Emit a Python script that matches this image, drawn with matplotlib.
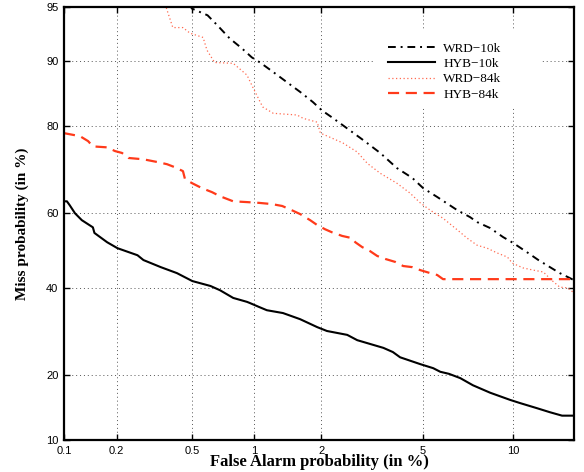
import numpy as np
import matplotlib
matplotlib.use("Agg")
import matplotlib.pyplot as plt
from matplotlib.patches import Rectangle
from statistics import NormalDist

# ---- data (percent) ----
wrd10k_fa = [0.49, 0.50, 0.60, 0.67, 0.77, 0.88, 0.98, 1.07, 1.23, 1.42, 1.62, 1.84, 2.01, 2.21,
             2.46, 2.97, 3.46, 4.01, 4.57, 5.01, 5.62, 6.6, 7.28, 7.68, 8.47, 9.3, 10.0, 11.1,
             11.9, 12.85, 13.7, 14.6, 15.0]
wrd10k_miss = [95.2, 94.9, 94.4, 93.6, 92.4, 91.4, 90.4, 89.8, 88.6, 87.2, 85.8, 84.2, 82.8, 81.6,
               80.1, 77.2, 74.5, 71.1, 68.8, 66.3, 64.1, 60.7, 58.9, 57.6, 56.0, 53.6, 52.0, 49.3,
               47.4, 45.5, 43.9, 42.6, 42.0]

hyb10k_fa = [0.100, 0.104, 0.108, 0.116, 0.127, 0.147, 0.150, 0.177, 0.202, 0.26, 0.28, 0.346,
             0.42, 0.503, 0.62, 0.69, 0.80, 0.93, 0.96, 1.06, 1.15, 1.36, 1.62, 1.92, 2.11, 2.56,
             2.81, 3.56, 3.87, 4.12, 4.89, 5.44, 5.76, 6.18, 6.75, 7.44, 8.47, 9.8, 10.5, 11.8,
             12.85, 13.9, 15.0]
hyb10k_miss = [63.0, 63.0, 62.0, 59.9, 58.1, 56.2, 54.7, 52.2, 50.6, 48.7, 47.4, 45.5,
               43.9, 41.8, 40.5, 39.4, 37.4, 36.4, 36.1, 35.1, 34.3, 33.6, 32.1, 30.2, 29.3, 28.4,
               27.2, 25.5, 24.6, 23.5, 22.1, 21.3, 20.6, 20.2, 19.4, 18.1, 16.8, 15.6, 15.1, 14.3,
               13.7, 13.2, 13.2]

wrd84k_fa = [0.365, 0.373, 0.40, 0.451, 0.49, 0.57, 0.596, 0.65, 0.80, 0.93, 0.99, 1.10, 1.23,
             1.57, 1.67, 1.92, 1.98, 2.17, 2.46, 2.81, 3.08, 3.46, 4.01, 4.48, 4.89, 5.31, 5.89,
             6.6, 7.12, 7.68, 8.28, 8.92, 9.6, 9.93, 10.7, 11.5, 12.3, 13.0, 13.7, 14.4, 15.0]
wrd84k_miss = [95.2, 94.8, 93.4, 93.4, 92.9, 92.5, 91.2, 89.8, 89.7, 88.2, 86.5, 83.4, 82.3,
               82.0, 81.4, 80.7, 78.6, 77.8, 76.6, 74.7, 72.2, 69.9, 67.5, 65.1, 62.6, 60.7, 58.6,
               55.5, 53.3, 51.4, 50.6, 49.3, 48.2, 46.6, 45.3, 44.7, 44.2, 42.0, 40.2, 40.0, 38.7]

hyb84k_fa = [0.100, 0.124, 0.138, 0.147, 0.177, 0.196, 0.214, 0.232, 0.28, 0.331, 0.373, 0.41,
             0.451, 0.462, 0.503, 0.563, 0.632, 0.69, 0.80, 0.93, 1.06, 1.21, 1.35, 1.49, 1.62,
             1.79, 1.92, 2.07, 2.21, 2.44, 2.68, 2.76, 2.94, 3.16, 3.37, 3.62, 3.95, 4.23, 4.57,
             4.89, 5.31, 5.62, 5.89, 15.0]
hyb84k_miss = [78.6, 78.0, 77.0, 75.9, 75.7, 74.9, 74.5, 73.4, 73.1, 72.5, 72.0, 71.3,
               70.4, 68.5, 67.5, 66.3, 65.3, 64.3, 63.0, 62.8, 62.6, 62.3, 61.8, 60.7, 59.7,
               58.1, 56.8, 55.7, 54.9, 53.9, 53.3, 52.2, 50.9, 49.8, 48.5, 47.7, 46.9, 45.8, 45.5,
               44.7, 43.9, 43.4, 42.3, 42.3]

x_ticks = [0.1, 0.2, 0.5, 1, 2, 5, 10]
x_tick_labels = ['0.1', '0.2', '0.5', '1', '2', '5', '10']
y_ticks = [10, 20, 40, 60, 80, 90, 95]
y_tick_labels = ['10', '20', '40', '60', '80', '90', '95']

# ---- probit scale ----
_nd = NormalDist()
_ppf = np.vectorize(lambda p: _nd.inv_cdf(min(max(p / 100.0, 1e-9), 1 - 1e-9)), otypes=[float])
_cdf = np.vectorize(lambda z: _nd.cdf(z) * 100.0, otypes=[float])

def fwd(p):
    return _ppf(np.asarray(p, dtype=float))

def inv(z):
    return _cdf(np.asarray(z, dtype=float))

fig = plt.figure(figsize=(5.84, 4.72), dpi=100)
ax = fig.add_axes([0.1096, 0.0678, 0.8734, 0.9172])
ax.set_xscale('function', functions=(fwd, inv))
ax.set_yscale('function', functions=(fwd, inv))

red = '#ff3a1a'
ax.plot(wrd10k_fa, wrd10k_miss, color='black', linestyle=(0, (4, 2.5, 1, 2.5)), lw=1.4, label='WRD\u221210k')
ax.plot(hyb10k_fa, hyb10k_miss, color='black', linestyle='-', lw=1.5, label='HYB\u221210k')
ax.plot(wrd84k_fa, wrd84k_miss, color='#ff6a50', linestyle=(0, (1, 2)), lw=0.9, label='WRD\u221284k')
ax.plot(hyb84k_fa, hyb84k_miss, color=red, linestyle=(0, (5, 3)), lw=1.6, label='HYB\u221284k')

ax.set_xlim(0.1, 15.0)
ax.set_ylim(10, 95)
ax.set_xticks(x_ticks)
ax.set_xticklabels(x_tick_labels)
ax.set_yticks(y_ticks)
ax.set_yticklabels(y_tick_labels)
ax.minorticks_off()
ax.tick_params(direction='in', top=True, right=True, length=4, width=1,
               labelsize=8, pad=4)
for lab in ax.get_xticklabels() + ax.get_yticklabels():
    lab.set_fontfamily('Liberation Sans')
ax.grid(True, color='#555555', linestyle=(0, (1, 3)), linewidth=0.7)
for s in ax.spines.values():
    s.set_linewidth(1.6)

ax.set_xlabel('False Alarm probability (in %)', fontfamily='Liberation Serif',
              fontweight='bold', fontsize=12, labelpad=-1)
ax.set_ylabel('Miss probability (in %)', fontfamily='Liberation Serif',
              fontweight='bold', fontsize=11, labelpad=12)

# white legend box (hides grid behind legend)
ax.add_patch(Rectangle((0.610, 0.769), 0.327, 0.178, transform=ax.transAxes,
                       facecolor='white', edgecolor='none', zorder=1.8))
leg = ax.legend(loc='upper left', bbox_to_anchor=(0.635, 0.918), frameon=False,
                borderpad=0, borderaxespad=0, handlelength=3.6, handletextpad=0.6,
                labelspacing=0.23, prop={'family': 'Liberation Serif', 'size': 9.5})

fig.savefig('out.png', dpi=100)
